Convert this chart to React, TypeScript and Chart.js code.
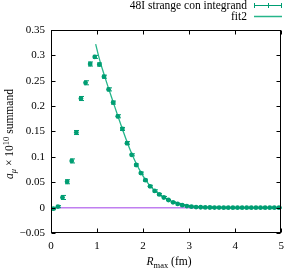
import React, { useEffect, useRef } from "react";
import { Chart, registerables } from "chart.js";

Chart.register(...registerables);

const rValues = [
  0.05, 0.15, 0.25, 0.35, 0.45, 0.55, 0.65, 0.75, 0.85, 0.95,
  1.05, 1.15, 1.25, 1.35, 1.45, 1.55, 1.65, 1.75, 1.85, 1.95,
  2.05, 2.15, 2.25, 2.35, 2.45, 2.55, 2.65, 2.75, 2.85, 2.95,
  3.05, 3.15, 3.25, 3.35, 3.45, 3.55, 3.65, 3.75, 3.85, 3.95,
  4.05, 4.15, 4.25, 4.35, 4.45, 4.55, 4.65, 4.75, 4.85, 4.95,
];
const summand = [
  -0.002, 0.002, 0.02, 0.051, 0.092, 0.148, 0.215, 0.246, 0.283, 0.297,
  0.282, 0.258, 0.233, 0.207, 0.18, 0.155, 0.127, 0.104, 0.084, 0.068,
  0.054, 0.042, 0.033, 0.026, 0.02, 0.015, 0.0105, 0.0073, 0.0048, 0.003,
  0.0018, 0.0011, 0.0007, 0.0004, 0.0002, 0.0001, 0.0001, 0.0, 0.0, 0.0,
  0.0, 0.0, 0.0, 0.0, 0.0, 0.0, 0.0, 0.0, 0.0, 0.0,
];
const summandErr = [
  0.002, 0.002, 0.004, 0.004, 0.004, 0.004, 0.004, 0.004, 0.004, 0.003,
  0.003, 0.003, 0.003, 0.003, 0.003, 0.003, 0.003, 0.002, 0.002, 0.002,
  0.002, 0.002, 0.002, 0.002, 0.002, 0.001, 0.001, 0.001, 0.001, 0.001,
  0.001, 0.001, 0.001, 0.001, 0.001, 0.001, 0.001, 0.001, 0.001, 0.001,
  0.001, 0.001, 0.001, 0.001, 0.001, 0.001, 0.001, 0.001, 0.001, 0.001,
];
const fitR = [
  0.97, 1.05, 1.15, 1.25, 1.35, 1.45, 1.55, 1.65, 1.75, 1.85, 1.95,
  2.05, 2.15, 2.25, 2.35, 2.45, 2.55, 2.65, 2.75, 2.85, 2.95,
  3.05, 3.25, 3.5, 3.75, 4.0, 4.5, 5.0,
];
const fitValues = [
  0.322, 0.293, 0.263, 0.235, 0.208, 0.181, 0.155, 0.13, 0.107, 0.087, 0.07,
  0.055, 0.043, 0.034, 0.026, 0.02, 0.015, 0.011, 0.008, 0.0058, 0.0042,
  0.003, 0.0015, 0.0006, 0.0002, 0.0001, 0.0, 0.0,
];
const zeroR = [0, 5];
const zeroValues = [0, 0];
const xTicks = [0, 1, 2, 3, 4, 5];
const yTicks = [-0.05, 0, 0.05, 0.1, 0.15, 0.2, 0.25, 0.3, 0.35];

const seriesLabel = "48I strange con integrand";
const fitLabel = "fit2";

const POINT_COLOR = "#009e73";
const FIT_COLOR = "#25b58a";
const ZERO_COLOR = "#c07ff0";
const SERIF = "'Liberation Serif', 'Times New Roman', serif";

type Run = { text: string; font: string; dy: number };

function drawRuns(ctx: CanvasRenderingContext2D, runs: Run[], x: number, y: number) {
  let total = 0;
  for (const r of runs) {
    ctx.font = r.font;
    total += ctx.measureText(r.text).width;
  }
  let cx = x - total / 2;
  ctx.textAlign = "left";
  ctx.textBaseline = "alphabetic";
  for (const r of runs) {
    ctx.font = r.font;
    ctx.fillText(r.text, cx, y + r.dy);
    cx += ctx.measureText(r.text).width;
  }
}

const decorPlugin = {
  id: "decor",
  afterDatasetsDraw(chart: any) {
    const ctx: CanvasRenderingContext2D = chart.ctx;
    const xs = chart.scales.x;
    const ys = chart.scales.y;
    ctx.save();
    ctx.strokeStyle = POINT_COLOR;
    ctx.lineWidth = 1;
    for (let i = 0; i < rValues.length; i++) {
      const px = Math.round(xs.getPixelForValue(rValues[i])) + 0.5;
      const top = ys.getPixelForValue(summand[i] + summandErr[i]);
      const bot = ys.getPixelForValue(summand[i] - summandErr[i]);
      ctx.beginPath();
      ctx.moveTo(px, top);
      ctx.lineTo(px, bot);
      ctx.moveTo(px - 2.5, top);
      ctx.lineTo(px + 2.5, top);
      ctx.moveTo(px - 2.5, bot);
      ctx.lineTo(px + 2.5, bot);
      ctx.stroke();
    }
    ctx.restore();
  },
  afterDraw(chart: any) {
    const ctx: CanvasRenderingContext2D = chart.ctx;
    const a = chart.chartArea;
    const xs = chart.scales.x;
    const ys = chart.scales.y;
    ctx.save();
    ctx.strokeStyle = "#000";
    ctx.lineWidth = 1;
    const L = Math.round(a.left) + 0.5;
    const R = Math.round(a.right) - 0.5;
    const T = Math.round(a.top) + 0.5;
    const B = Math.round(a.bottom) - 0.5;
    ctx.strokeRect(L, T, R - L, B - T);
    const tl = 4;
    ctx.beginPath();
    for (const v of xTicks) {
      const px = Math.round(xs.getPixelForValue(v)) + 0.5;
      ctx.moveTo(px, B);
      ctx.lineTo(px, B - tl);
      ctx.moveTo(px, T);
      ctx.lineTo(px, T + tl);
    }
    for (const v of yTicks) {
      const py = Math.round(ys.getPixelForValue(v)) + 0.5;
      ctx.moveTo(L, py);
      ctx.lineTo(L + tl, py);
      ctx.moveTo(R, py);
      ctx.lineTo(R - tl, py);
    }
    ctx.stroke();

    // legend
    ctx.fillStyle = "#000";
    ctx.font = `11.5px ${SERIF}`;
    ctx.textAlign = "right";
    ctx.textBaseline = "middle";
    ctx.fillText(seriesLabel, 247, 5.5);
    ctx.fillText(fitLabel, 247, 16.5);
    ctx.strokeStyle = POINT_COLOR;
    ctx.beginPath();
    ctx.moveTo(254, 5.5);
    ctx.lineTo(282, 5.5);
    for (const tx of [254.5, 268.5, 281.5]) {
      ctx.moveTo(tx, 3);
      ctx.lineTo(tx, 8);
    }
    ctx.stroke();
    ctx.strokeStyle = FIT_COLOR;
    ctx.lineWidth = 1.5;
    ctx.beginPath();
    ctx.moveTo(254, 16.5);
    ctx.lineTo(282, 16.5);
    ctx.stroke();

    // axis titles
    ctx.fillStyle = "#000";
    const big = `11.5px ${SERIF}`;
    const bigI = `italic 11.5px ${SERIF}`;
    const small = `8.5px ${SERIF}`;
    const smallI = `italic 8.5px ${SERIF}`;
    drawRuns(ctx, [
      { text: "R", font: bigI, dy: 0 },
      { text: "max", font: small, dy: 2.5 },
      { text: " (fm)", font: big, dy: 0 },
    ], 169, 265);

    ctx.save();
    ctx.translate(9, 134);
    ctx.rotate(-Math.PI / 2);
    drawRuns(ctx, [
      { text: "a", font: bigI, dy: 0 },
      { text: "μ", font: smallI, dy: 2.5 },
      { text: " × 10", font: big, dy: 0 },
      { text: "10", font: small, dy: -4 },
      { text: " summand", font: big, dy: 0 },
    ], 0, 4);
    ctx.restore();
    ctx.restore();
  },
};

function fmt(v: number): string {
  const r = Math.round(v * 100) / 100;
  if (r === 0) return "0";
  return String(r).replace("-", "\u2212");
}

export default function App() {
  const ref = useRef<HTMLCanvasElement | null>(null);
  useEffect(() => {
    if (!ref.current) return;
    const chart = new Chart(ref.current, {
      type: "scatter",
      data: {
        datasets: [
          {
            label: seriesLabel,
            data: rValues.map((r, i) => ({ x: r, y: summand[i] })),
            backgroundColor: POINT_COLOR,
            borderColor: POINT_COLOR,
            pointRadius: 2.4,
            pointBorderWidth: 0,
            showLine: false,
            order: 0,
          },
          {
            label: fitLabel,
            data: fitR.map((r, i) => ({ x: r, y: fitValues[i] })),
            borderColor: FIT_COLOR,
            borderWidth: 1.3,
            pointRadius: 0,
            showLine: true,
            tension: 0.4,
            cubicInterpolationMode: "monotone",
            order: 1,
          },
          {
            label: "zero",
            data: zeroR.map((r, i) => ({ x: r, y: zeroValues[i] })),
            borderColor: ZERO_COLOR,
            borderWidth: 1.5,
            pointRadius: 0,
            showLine: true,
            order: 2,
          },
        ],
      } as any,
      options: {
        animation: false,
        responsive: false,
        maintainAspectRatio: false,
        layout: { padding: { top: 30, right: 3, left: 0, bottom: 0 } },
        plugins: {
          legend: { display: false },
          tooltip: { enabled: false },
          title: { display: false },
        },
        scales: {
          x: {
            type: "linear",
            min: 0,
            max: 5,
            afterBuildTicks: (s: any) => {
              s.ticks = xTicks.map((v) => ({ value: v }));
            },
            afterFit: (s: any) => {
              s.height = 36;
            },
            grid: { display: false, drawTicks: false },
            border: { display: false },
            ticks: {
              padding: 7,
              color: "#000",
              font: { family: SERIF, size: 11 },
              maxRotation: 0,
              callback: (v: any) => fmt(Number(v)),
            },
          },
          y: {
            type: "linear",
            min: -0.05,
            max: 0.35,
            afterBuildTicks: (s: any) => {
              s.ticks = yTicks.map((v) => ({ value: v }));
            },
            afterFit: (s: any) => {
              s.width = 51;
            },
            grid: { display: false, drawTicks: false },
            border: { display: false },
            ticks: {
              padding: 6,
              color: "#000",
              font: { family: SERIF, size: 11 },
              callback: (v: any) => fmt(Number(v)),
            },
          },
        },
      },
      plugins: [decorPlugin],
    });
    return () => chart.destroy();
  }, []);
  return (
    <div style={{ position: "fixed", left: 0, top: 0, width: 291, height: 269, background: "#fff" }}>
      <canvas ref={ref} width={291} height={269} style={{ display: "block", width: 291, height: 269 }} />
    </div>
  );
}
